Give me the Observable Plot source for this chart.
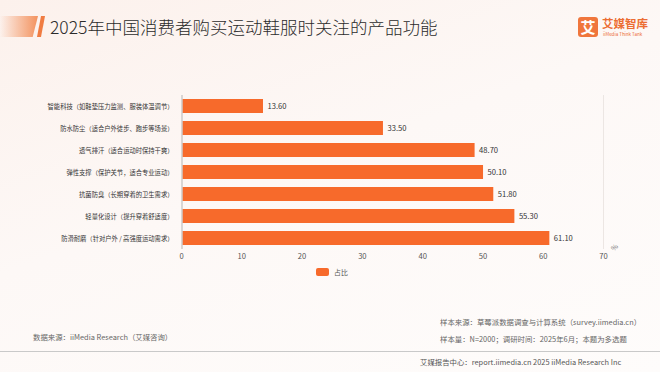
<!DOCTYPE html>
<html><head><meta charset="utf-8">
<script src="https://cdn.jsdelivr.net/npm/d3@7"></script>
<script src="https://cdn.jsdelivr.net/npm/@observablehq/plot@0.6"></script>
<style>
body{margin:0;}
#wrap{position:relative;width:660px;height:372px;overflow:hidden;font-family:"Noto Sans CJK SC","Noto Sans",sans-serif;
background:linear-gradient(160deg,#fcf1ec 0%,#fdf8f6 45%,#fefcfb 100%);}
.abs{position:absolute;white-space:nowrap;}
#chart{position:absolute;left:0;top:80px;}
</style></head>
<body><div id="wrap">
<div class="abs" style="left:0;top:16px;width:38px;height:21px;background:linear-gradient(90deg,rgba(244,140,90,0) 0%,#f3925e 100%);clip-path:polygon(0 0,100% 0,86% 100%,0 100%);"></div>
<div class="abs" style="left:37px;top:16px;width:8px;height:21px;background:#f07c42;clip-path:polygon(50% 0,100% 0,50% 100%,0 100%);"></div>
<div class="abs" id="title" style="left:50px;top:14px;font-size:17.5px;color:#2b2b2b;font-weight:300;"></div>
<div class="abs" style="left:578px;top:17px;width:20px;height:20px;border-radius:3px;background:#f0763c;color:#fff;font-size:15px;line-height:20px;text-align:center;font-weight:bold;">艾</div>
<div class="abs" style="left:602px;top:15px;font-size:11.5px;color:#ec6d33;font-weight:bold;">艾媒智库</div>
<div class="abs" style="left:603px;top:31px;font-size:4.5px;color:#ec6d33;">iiMedia Think Tank</div>
<div id="chart"></div>
<div class="abs" style="left:611px;top:242px;font-size:7px;color:#777;transform:rotate(-45deg);">%</div>
<div class="abs" id="src" style="left:33px;top:331px;font-size:7.4px;color:#666;"></div>
<div class="abs" id="note1" style="left:440px;top:316px;font-size:7.4px;color:#666;"></div>
<div class="abs" id="note2" style="left:440px;top:333px;font-size:7.4px;color:#666;"></div>
<div class="abs" style="left:0;top:351px;width:660px;height:1px;background:#c9c9c9;"></div>
<div class="abs" id="foot" style="left:420px;top:356px;font-size:7.4px;color:#555;"></div>
</div>
<script>
const titleText = "2025年中国消费者购买运动鞋服时关注的产品功能";
const categories = [
  "智能科技（如鞋垫压力监测、服装体温调节）",
  "防水防尘（适合户外徒步、跑步等场景）",
  "透气排汗（适合运动时保持干爽）",
  "弹性支撑（保护关节，适合专业运动）",
  "抗菌防臭（长期穿着的卫生需求）",
  "轻量化设计（提升穿着舒适度）",
  "防滑耐磨（针对户外 / 高强度运动需求）"
];
const values = [13.6, 33.5, 48.7, 50.1, 51.8, 55.3, 61.1];
const xTicks = [0, 10, 20, 30, 40, 50, 60, 70];
const seriesName = "占比";
const sourceText = "数据来源：iiMedia Research（艾媒咨询）";
const note1Text = "样本来源：草莓派数据调查与计算系统（survey.iimedia.cn）";
const note2Text = "样本量：N=2000；调研时间：2025年6月；本题为多选题";
const footText = "艾媒报告中心：report.iimedia.cn   2025 iiMedia Research Inc";

document.getElementById("title").textContent = titleText;
document.getElementById("src").textContent = sourceText;
document.getElementById("note1").textContent = note1Text;
document.getElementById("note2").textContent = note2Text;
document.getElementById("foot").textContent = footText;

const data = categories.map((c, i) => ({category: c, value: values[i]}));
const barColor = "#f76a2b";

const plot = Plot.plot({
  width: 660,
  height: 205,
  marginLeft: 181,
  marginRight: 57,
  marginTop: 15,
  marginBottom: 36,
  style: {background: "transparent", fontFamily: "'Noto Sans CJK SC', sans-serif", overflow: "visible"},
  x: {domain: [0, 70], ticks: xTicks, label: null},
  y: {domain: categories, label: null, paddingInner: 0.36, paddingOuter: 0.18},
  marks: [
    Plot.ruleX([70], {stroke: "#ece6e3", strokeWidth: 1}),
    Plot.barX(data, {x: "value", y: "category", fill: barColor, insetLeft: 1.5}),
    Plot.text(data, {x: "value", y: "category", text: d => d.value.toFixed(2), textAnchor: "start", dx: 4, fontSize: 7.6, fill: "#333"}),
    Plot.ruleX([0], {stroke: "#b5b5b5", strokeWidth: 1, dx: 0.5}),
    Plot.axisX({ticks: xTicks, tickSize: 0, tickPadding: 4, fontSize: 7.6, fill: "#555"}),
    Plot.axisY({tickSize: 0, tickPadding: 8, fontSize: 6.3, fill: "#333"})
  ]
});
document.getElementById("chart").appendChild(plot);

const lg = document.createElement("div");
lg.className = "abs";
lg.style.cssText = "left:316px;top:267px;display:flex;align-items:center;font-size:6.9px;color:#555;";
lg.innerHTML = '<span style="display:inline-block;width:13px;height:8px;border-radius:2px;background:' + barColor + ';margin-right:5px;"></span>' + seriesName;
document.getElementById("wrap").appendChild(lg);
</script>
</body></html>
